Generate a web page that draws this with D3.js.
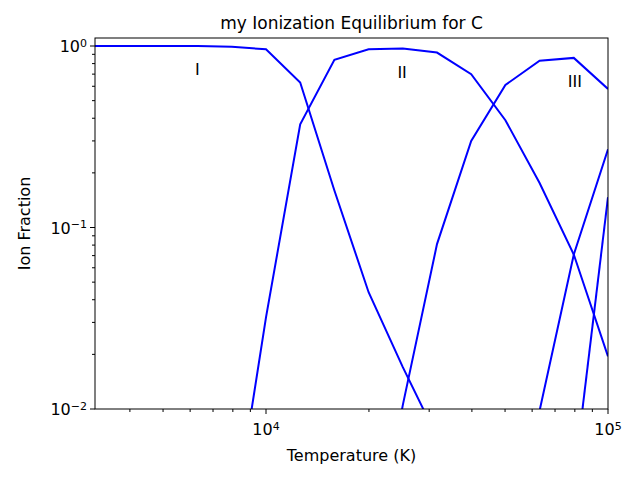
<!DOCTYPE html>
<html><head><meta charset="utf-8">
<script src="https://cdn.jsdelivr.net/npm/d3@7"></script>
<style>body{margin:0;background:#fff}text{font-family:"DejaVu Sans",sans-serif;fill:#000}</style>
</head><body><svg id="c" width="640" height="480"></svg>
<script>
var temps = [3.5,3.6,3.7,3.8,3.9,4.0,4.1,4.2,4.3,4.4,4.5,4.6,4.7,4.8,4.9,5.0].map(function(e){return Math.pow(10,e)}),
	ionI = [1,1,1,1,0.99,0.96,0.63,0.16,0.044,0.017,0.007,null,null,null,null,null],
	ionII = [null,null,null,null,0.002,0.032,0.37,0.84,0.96,0.97,0.92,0.70,0.39,0.176,0.071,0.0195],
	ionIII = [null,null,null,null,null,null,null,null,0.001,0.0105,0.081,0.30,0.61,0.83,0.86,0.58],
	ionIV = [null,null,null,null,null,null,null,null,null,null,null,null,0.0005,0.0098,0.071,0.27],
	ionV = [null,null,null,null,null,null,null,null,null,null,null,null,null,null,0.004,0.147],
	labels = [['I',6300,0.74],['II',25000,0.72],['III',80000,0.64]];

var svg = d3.select('#c'),
	l = 95, r = 608, t = 38, b = 409;
var x = d3.scaleLog().domain([Math.pow(10,3.5),1e5]).range([l,r]),
	y = d3.scaleLog().domain([0.01,1.107]).range([b,t]);

svg.append('clipPath').attr('id','cp').append('rect')
	.attr('x',l).attr('y',t).attr('width',r-l).attr('height',b-t);

var line = d3.line().defined(function(d){return d[1]!=null})
	.x(function(d){return x(d[0])}).y(function(d){return y(d[1])});
[ionI,ionII,ionIII,ionIV,ionV].forEach(function(s){
	svg.append('path').attr('clip-path','url(#cp)')
		.attr('d', line(temps.map(function(T,i){return [T,s[i]]})))
		.attr('fill','none').attr('stroke','#0000ff').attr('stroke-width',2);
});

labels.forEach(function(d){
	svg.append('text').attr('x',x(d[1])).attr('y',y(d[2])).attr('text-anchor','middle')
		.attr('dy','0.35em').style('font-size','16px').text(d[0]);
});

svg.append('rect').attr('x',l).attr('y',t).attr('width',r-l).attr('height',b-t)
	.attr('fill','none').attr('stroke','#000').attr('stroke-width',1);

function pow10(sel, e){
	sel.append('tspan').text('10');
	sel.append('tspan').attr('dy','-0.5em').style('font-size','11px').text(e);
}
// x ticks
[1e4,1e5].forEach(function(v){
	svg.append('line').attr('x1',x(v)).attr('x2',x(v)).attr('y1',b).attr('y2',b+5).attr('stroke','#000');
	var tx = svg.append('text').attr('x',x(v)).attr('y',b+26).attr('text-anchor','middle').style('font-size','16px');
	pow10(tx, Math.round(Math.log10(v)));
});
[4e3,5e3,6e3,7e3,8e3,9e3,2e4,3e4,4e4,5e4,6e4,7e4,8e4,9e4].forEach(function(v){
	svg.append('line').attr('x1',x(v)).attr('x2',x(v)).attr('y1',b).attr('y2',b+3).attr('stroke','#000');
});
// y ticks
[[1,'0'],[0.1,'−1'],[0.01,'−2']].forEach(function(d){
	svg.append('line').attr('x1',l-5).attr('x2',l).attr('y1',y(d[0])).attr('y2',y(d[0])).attr('stroke','#000');
	var ty = svg.append('text').attr('x',l-8).attr('y',y(d[0])+6).attr('text-anchor','end').style('font-size','16px');
	pow10(ty, d[1]);
});
[0.02,0.03,0.04,0.05,0.06,0.07,0.08,0.09,0.2,0.3,0.4,0.5,0.6,0.7,0.8,0.9].forEach(function(v){
	svg.append('line').attr('x1',l-3).attr('x2',l).attr('y1',y(v)).attr('y2',y(v)).attr('stroke','#000');
});

svg.append('text').attr('x',(l+r)/2).attr('y',29).attr('text-anchor','middle').style('font-size','17px')
	.text('my Ionization Equilibrium for C');
svg.append('text').attr('x',(l+r)/2).attr('y',461).attr('text-anchor','middle').style('font-size','16px')
	.text('Temperature (K)');
svg.append('text').attr('transform','translate(30,'+((t+b)/2)+') rotate(-90)').attr('text-anchor','middle')
	.style('font-size','16px').text('Ion Fraction');
</script></body></html>
